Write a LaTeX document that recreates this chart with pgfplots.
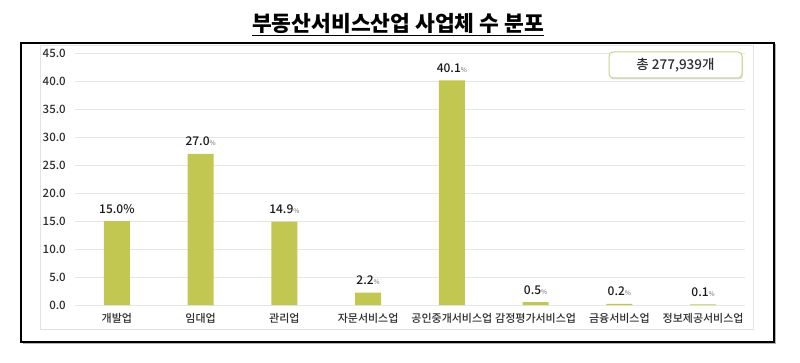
\documentclass[border=0pt]{standalone}
\usepackage{fontspec}
\setmainfont{Noto Sans CJK KR}
\IfFontExistsTF{Noto Sans CJK KR Medium}{\newfontfamily\med{Noto Sans CJK KR Medium}}{\newcommand{\med}{\bfseries}}
\usepackage{pgfplots}
\pgfplotsset{compat=1.18}
\usetikzlibrary{shadows}
\definecolor{barc}{RGB}{193,199,80}
\definecolor{gridc}{RGB}{230,230,230}
\definecolor{txt}{RGB}{45,45,45}
\definecolor{boxc}{RGB}{205,209,140}
\newcommand{\pct}{{\fontsize{6.5}{7}\selectfont\color{gray}\%}}
\begin{document}
\begin{tikzpicture}
\path[use as bounding box] (0pt,0pt) rectangle (800pt,362pt);
\draw[gray!22] (40pt,33pt) rectangle (753pt,317pt);
\draw[black!30, line width=1.2pt] (22.5pt,18.5pt) -- (775.5pt,18.5pt) -- (775.5pt,317.5pt);
\draw[line width=1.6pt] (21pt,20pt) rectangle (774pt,319pt);
\node[font=\fontsize{21.5}{24}\selectfont\bfseries, anchor=base, inner sep=0pt] (title) at (398pt,330pt) {부동산서비스산업 사업체 수 분포};
\draw[line width=1.4pt] ([yshift=-3.5pt]title.base west) -- ([yshift=-3.5pt]title.base east);
\begin{axis}[
  at={(75pt,57pt)}, anchor=south west,
  scale only axis, width=670pt, height=252pt,
  xmin=-0.5, xmax=7.5, ymin=0, ymax=45,
  ytick={0,5,...,45},
  xtick={0,...,7},
  xticklabels={개발업,임대업,관리업,자문서비스업,공인중개서비스업,감정평가서비스업,금융서비스업,정보제공서비스업},
  axis line style={draw=none},
  major tick length=0pt,
  ymajorgrids, grid style={gridc, line width=0.8pt},
  yticklabel style={anchor=east, inner sep=0pt, xshift=-9pt, font=\fontsize{11.5}{13}\selectfont\med, text=txt},
  xticklabel style={anchor=north, inner sep=0pt, yshift=-8pt, font=\fontsize{11}{12}\selectfont\med, text=txt},
  /pgf/number format/assume math mode=true,
  yticklabel={\pgfmathprintnumber[fixed,precision=1,fixed zerofill]{\tick}},
  ybar, bar width=26pt,
  point meta=explicit symbolic,
  nodes near coords,
  nodes near coords style={anchor=base, inner sep=0pt, yshift=8pt, font=\fontsize{12}{14}\selectfont\med, text=black!90},
  clip=false,
]
\addplot[fill=barc, draw=none] coordinates {
  (0,15.0) [15.0\%]
  (1,27.0) [27.0\pct]
  (2,14.9) [14.9\pct]
  (3,2.2) [2.2\pct]
  (4,40.1) [40.1\pct]
  (5,0.5) [0.5\pct]
  (6,0.2) [0.2\pct]
  (7,0.1) [0.1\pct]
};
\end{axis}
\draw[boxc, line width=1pt, rounded corners=4pt, fill=white, drop shadow={opacity=0.25, shadow xshift=1pt, shadow yshift=-1.5pt}] (609pt,284pt) rectangle (742pt,310pt);
\node[font=\fontsize{13.5}{15}\selectfont\med, text=txt] at (675.5pt,297pt) {총 277,939개};
\end{tikzpicture}
\end{document}
